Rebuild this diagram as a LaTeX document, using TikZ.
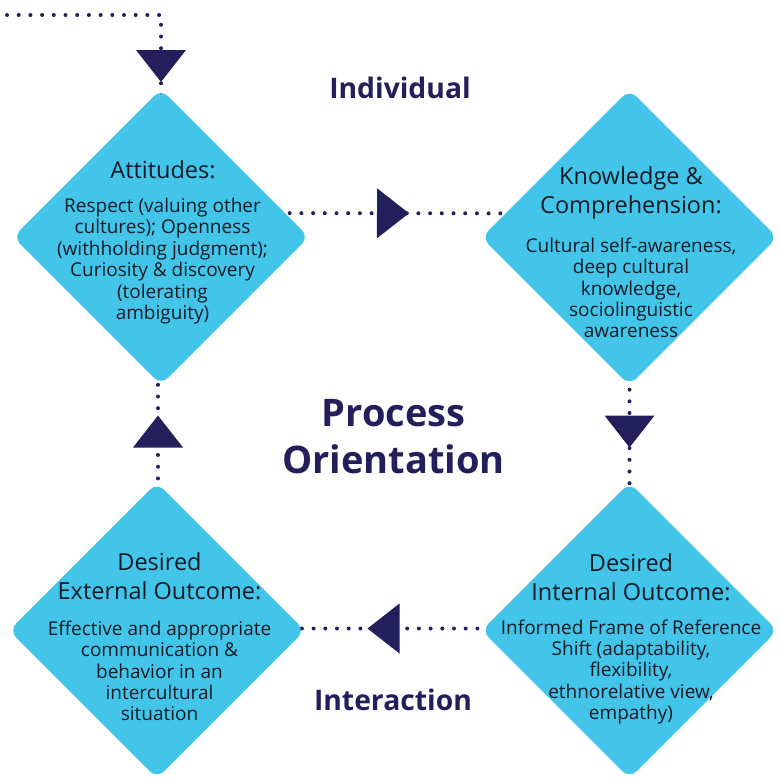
\documentclass[tikz,border=0pt]{standalone}
\usepackage{fontspec}
\setmainfont{Open Sans}
\usetikzlibrary{shapes.geometric,arrows.meta,decorations.markings,backgrounds}
\definecolor{sky}{HTML}{42C5E8}
\definecolor{navy}{HTML}{231F5B}
\definecolor{ink}{HTML}{161A26}
\tikzset{
	box/.style={diamond, fill=sky, minimum width=296pt, minimum height=296pt, inner sep=0pt, rounded corners=10pt},
	head/.style={text=ink, align=center, font=\fontsize{23.5}{29}\selectfont},
	body/.style={text=ink, align=center, font=\fontsize{19}{21.4}\selectfont},
	tag/.style={text=navy, align=center, font=\bfseries\fontsize{28.3}{46}\selectfont},
	flow/.style={navy, line width=4pt, line cap=round, dash pattern=on 0pt off 11.7pt},
	arrowat/.style={postaction={decorate}, decoration={markings, mark=at position #1 with {\arrow{Triangle[width=50pt,length=32pt,line width=0pt]}}}}
}

\begin{document}
\begin{tikzpicture}[x=1pt, y=-1pt]
		%%%%% START %%%%%
		\useasboundingbox (0, 0) rectangle (780, 780);
		
		\node[box] (att) at (161, 237) {};
		\node[box] (know) at (629.5, 237.5) {};
		\node[box] (int) at (629.5, 630.5) {};
		\node[box] (ext) at (157, 630.5) {};
		
		\node[head] (atthead) at (163, 170) {Attitudes:};
		\node[body] (attbody) at (162.5, 261) {Respect (valuing other\\cultures); Openness\\(withholding judgment);\\Curiosity \& discovery\\(tolerating\\ambiguity)};
		
		\node[head] (knowhead) at (631, 193) {Knowledge \&\\Comprehension:};
		\node[body] (knowbody) at (631, 288) {Cultural self-awareness,\\deep cultural\\knowledge,\\sociolinguistic\\awareness};
		
		\node[head] (inthead) at (631, 577) {Desired\\Internal Outcome:};
		\node[body] (intbody) at (631, 672) {Informed Frame of Reference\\Shift (adaptability,\\flexibility,\\ethnorelative view,\\empathy)};
		
		\node[head] (exthead) at (159.5, 576) {Desired\\External Outcome:};
		\node[body] (extbody) at (159.5, 671) {Effective and appropriate\\communication \&\\behavior in an\\intercultural\\situation};
		
		\node[tag] (indiv) at (400, 88) {Individual};
		\node[tag, font=\bfseries\fontsize{38}{47}\selectfont] (proc) at (393.5, 437) {Process\\Orientation};
		\node[tag] (inter) at (393, 700) {Interaction};
		
		\coordinate (start) at (7, 15);
		
		\begin{scope}[on background layer]
			\draw[flow, arrowat=221pt] (start) -| (att.center);
			\draw[flow, arrowat=248pt] ([yshift=24pt]att.center) -- ([yshift=24pt]know.center);
			\draw[flow, arrowat=210pt] (know.center) -- (int.center);
			\draw[flow, arrowat=262pt] ([yshift=2pt]int.center) -- ([yshift=2pt]ext.center);
			\draw[flow, arrowat=215pt] ([xshift=1pt]ext.center) -- ([xshift=1pt]ext.center |- att.center);
		\end{scope}
		
		%%%%% END %%%%%
	\end{tikzpicture}
\end{document}
